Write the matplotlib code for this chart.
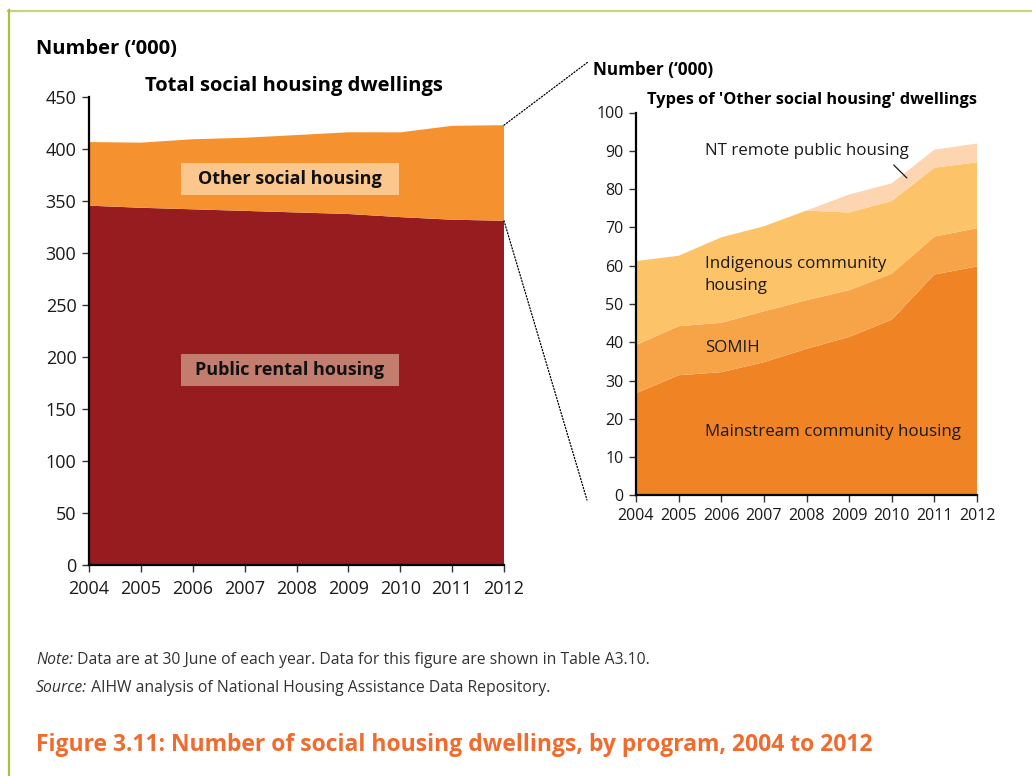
import numpy as np
import matplotlib.pyplot as plt
from matplotlib.patches import ConnectionPatch, Rectangle
from matplotlib.lines import Line2D

plt.rcParams['font.family'] = ['Open Sans', 'DejaVu Sans']

# Dwellings ('000) at 30 June each year
years = [2004, 2005, 2006, 2007, 2008, 2009, 2010, 2011, 2012]
public_rental = [345.5, 343.5, 342.0, 340.5, 339.0, 337.5, 334.5, 332.0, 331.0]

# Breakdown of 'Other social housing'
mainstream = [26.7, 31.4, 32.2, 34.8, 38.3, 41.4, 45.9, 57.7, 59.8]
somih = [12.6, 12.8, 12.9, 13.3, 12.7, 12.2, 12.0, 9.9, 10.0]
indigenous = [21.9, 18.4, 22.3, 22.2, 23.4, 20.3, 19.0, 18.0, 17.2]
nt_remote = [0.0, 0.0, 0.0, 0.0, 0.0, 4.7, 4.6, 4.7, 4.9]

other_social = np.sum([mainstream, somih, indigenous, nt_remote], axis=0)
total = np.array(public_rental) + other_social

W, H = 1032, 776


def fx(x):
    return x / W


def fy(y):
    return 1 - y / H


fig = plt.figure(figsize=(W / 100, H / 100), dpi=100)

tick_col = '#1a1a1a'


def style_axes(ax, fs):
    for s in ['top', 'right']:
        ax.spines[s].set_visible(False)
    for s in ['left', 'bottom']:
        ax.spines[s].set_linewidth(1.6)
        ax.spines[s].set_color('black')
    ax.tick_params(direction='out', length=5, width=1.0, colors='#333333',
                   labelcolor=tick_col, labelsize=fs, pad=4)
    ax.margins(0)


# left panel: total social housing
ax1 = fig.add_axes([fx(89), fy(565), 415 / W, 468 / H])
ax1.stackplot(years, public_rental, other_social,
              colors=['#961C20', '#F5922F'], linewidth=0)
ax1.set_xlim(2004, 2012)
ax1.set_ylim(0, 450)
ax1.set_yticks(range(0, 451, 50))
ax1.set_xticks(years)
style_axes(ax1, 13)
ax1.tick_params(axis='x', pad=6)

# right panel: types of other social housing
ax2 = fig.add_axes([fx(636), fy(495.5), 341 / W, 383 / H])
ax2.stackplot(years, mainstream, somih, indigenous, nt_remote,
              colors=['#F08324', '#F7A449', '#FDC369', '#FDD5B1'], linewidth=0)
ax2.set_xlim(2004, 2012)
ax2.set_ylim(0, 100)
ax2.set_yticks(range(0, 101, 10))
ax2.set_xticks(years)
style_axes(ax2, 11.5)

# titles
fig.text(fx(36), fy(49), "Number (\u2018000)", fontsize=14.5, fontweight='bold', va='center')
fig.text(fx(294), fy(86), 'Total social housing dwellings', fontsize=14.5,
         fontweight='bold', ha='center', va='center')
fig.text(fx(593), fy(70), "Number (\u2018000)", fontsize=12.3, fontweight='bold', va='center')
fig.text(fx(812), fy(100), "Types of 'Other social housing' dwellings", fontsize=11.8,
         fontweight='bold', ha='center', va='center')

# boxed series labels on the left panel
for (top, name, fc) in [(163, 'Other social housing', '#FBC78C'),
                        (354, 'Public rental housing', '#C27D6F')]:
    fig.add_artist(Rectangle((fx(181), fy(top + 32)), 218 / W, 32 / H,
                             transform=fig.transFigure, fc=fc, ec='none'))
    fig.text(fx(290), fy(top + 16), name, fontsize=13, fontweight='bold',
             ha='center', va='center', color='#111111')

# labels on the right panel
lab = dict(fontsize=12.2, color='#1a1a1a', va='center')
fig.text(fx(705), fy(151), 'NT remote public housing', **lab)
fig.text(fx(705), fy(275), 'Indigenous community\nhousing', linespacing=1.55, **lab)
fig.text(fx(705), fy(348), 'SOMIH', **lab)
fig.text(fx(705), fy(432), 'Mainstream community housing', **lab)
ax2.annotate('', xy=(2010.4, 82.4), xytext=(2010.0, 86.8),
             arrowprops=dict(arrowstyle='-', lw=0.9, color='#1a1a1a'),
             annotation_clip=False)

# dotted zoom lines linking the two panels
for yv, target in [(total[-1], (588, 62)), (public_rental[-1], (587, 500))]:
    con = ConnectionPatch(xyA=(2012, yv), coordsA=ax1.transData,
                          xyB=(fx(target[0]), fy(target[1])), coordsB=fig.transFigure,
                          linestyle=(0, (1, 1.5)), color='black', lw=0.9)
    fig.add_artist(con)

# frame
fig.add_artist(Line2D([fx(8), 1], [fy(10.5), fy(10.5)], transform=fig.transFigure,
                      color='#C3D67C', lw=1.6))
fig.add_artist(Line2D([fx(8.5), fx(8.5)], [fy(10), 0], transform=fig.transFigure,
                      color='#A8C43E', lw=1.6))

# notes
note_col = '#333333'
t1 = fig.text(fx(36), fy(664), 'Note:', fontsize=11.3, style='italic', color=note_col)
ax1.annotate(' Data are at 30 June of each year. Data for this figure are shown in Table A3.10.',
             xy=(1, 0), xycoords=t1, va='bottom', fontsize=11.3, color=note_col,
             annotation_clip=False)
t2 = fig.text(fx(36), fy(692), 'Source:', fontsize=11.3, style='italic', color=note_col)
ax1.annotate(' AIHW analysis of National Housing Assistance Data Repository.',
             xy=(1, 0), xycoords=t2, va='bottom', fontsize=11.3, color=note_col,
             annotation_clip=False)

fig.text(fx(36), fy(751), 'Figure 3.11: Number of social housing dwellings, by program, 2004 to 2012',
         fontsize=16.5, fontweight='bold', color='#F26B2E')

fig.savefig('out.png', dpi=100)
